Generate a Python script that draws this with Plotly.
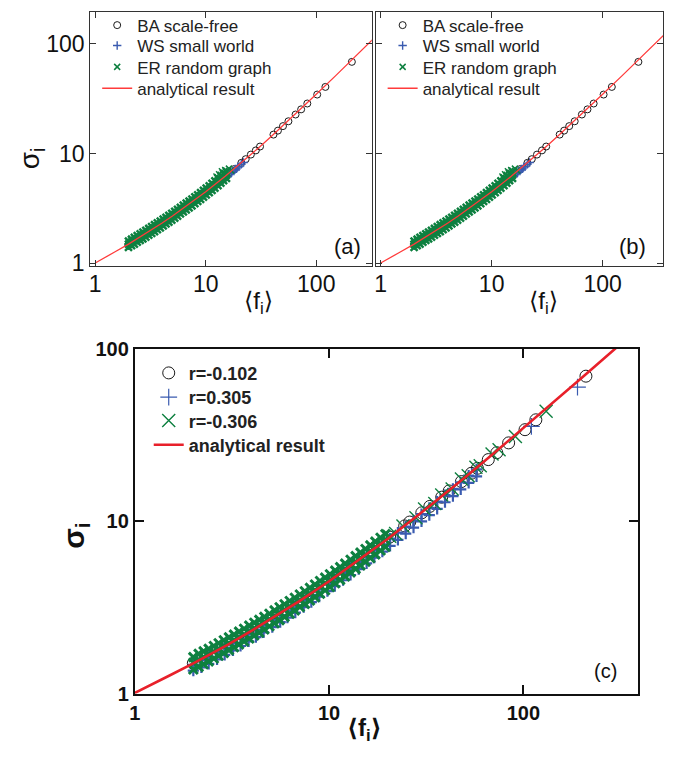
import plotly.graph_objects as go

W, H = 677, 760

LINE_F = [1, 1.25, 1.5, 2, 2.5, 3, 4, 5, 7, 10, 15, 20, 30, 40, 50, 70, 100, 150, 200, 300, 400]
LINE_S = [1.01, 1.14, 1.27, 1.50, 1.72, 1.92, 2.32, 2.70, 3.43, 4.49, 6.21, 7.90, 11.27, 14.62,
          17.97, 24.65, 34.66, 51.33, 68.0, 101.3, 134.7]

BA_F = [2.0, 2.15, 2.3, 2.5, 2.75, 3.0, 3.4, 3.8, 4.3, 4.9, 5.6, 6.4, 7.3, 8.3, 9.5, 10.8, 12.3, 14, 16, 18,
        21, 23, 25.6, 28.4, 31, 41, 45, 50, 56, 65, 73, 83, 102, 121, 210]
BA_S = [1.50, 1.565, 1.63, 1.72, 1.82, 1.92, 2.08, 2.24, 2.43, 2.66, 2.92, 3.21, 3.53, 3.89, 4.31, 4.76, 5.28, 5.86, 6.55, 7.22,
        8.24, 8.9, 9.8, 10.7, 11.6, 14.9, 16.2, 17.8, 19.7, 22.7, 25.3, 28.6, 34.5, 40.5, 68.5]

WS_F = [2.0, 2.3, 2.7, 3.1, 3.6, 4.2, 4.9, 5.7, 6.6, 7.7, 9.0, 10.5, 12.0, 12.5, 13.0, 13.5, 14.0, 14.5,
        15.0, 15.5, 16.0, 16.5, 17.0, 17.5, 18.0, 18.5, 19.0, 19.5, 20.0, 21.0, 22.0]
WS_S = [1.45, 1.58, 1.75, 1.91, 2.10, 2.32, 2.58, 2.87, 3.18, 3.57, 4.01, 4.52, 4.98, 5.25, 5.30, 5.58, 5.63, 5.91,
        5.97, 6.25, 6.29, 6.59, 6.61, 6.92, 6.93, 7.24, 7.26, 7.58, 7.58, 8.0, 8.3]

ER_F = [2.0, 2.13, 2.26, 2.4, 2.55, 2.7, 2.87, 3.05, 3.24, 3.44, 3.65, 3.88, 4.12, 4.37, 4.64, 4.93, 5.24,
        5.56, 5.9, 6.27, 6.66, 7.07, 7.5, 7.97, 8.46, 8.98, 9.54, 10.1, 10.75, 11.4, 12.1, 12.9, 13.7, 14.5, 15.4]
ER_LO = [1.40, 1.45, 1.50, 1.56, 1.62, 1.67, 1.74, 1.81, 1.88, 1.95, 2.03, 2.11, 2.20, 2.29, 2.38, 2.48, 2.59,
         2.70, 2.82, 2.94, 3.07, 3.21, 3.35, 3.51, 3.67, 3.84, 4.02, 4.20, 4.41, 4.62, 4.85, 5.10, 5.39, 5.67, 5.96]
ER_MID = [1.50, 1.56, 1.62, 1.68, 1.74, 1.81, 1.87, 1.95, 2.03, 2.10, 2.19, 2.28, 2.37, 2.47, 2.57, 2.68, 2.79,
          2.91, 3.04, 3.17, 3.31, 3.46, 3.61, 3.78, 3.95, 4.14, 4.33, 4.53, 4.76, 4.98, 5.23, 5.50, 5.78, 6.05, 6.36]
ER_HI = [1.60, 1.66, 1.73, 1.79, 1.86, 1.93, 2.00, 2.08, 2.16, 2.25, 2.34, 2.43, 2.53, 2.63, 2.74, 2.86, 2.98,
         3.11, 3.24, 3.39, 3.54, 3.69, 3.86, 4.04, 4.22, 4.42, 4.63, 4.84, 5.08, 5.36, 5.65, 5.98, 6.30, 6.60, 6.90]
ER_OUT_F = [12.5, 13.2, 14.0, 15.0, 16.2, 17.0]
ER_OUT_S = [6.2, 6.5, 6.9, 7.1, 7.3, 7.0]

C1_F = [2.0, 2.15, 2.3, 2.5, 2.75, 3.0, 3.4, 3.8, 4.3, 4.9, 5.6, 6.4, 7.3, 8.3, 9.5, 10.8, 12.3, 14, 16, 18,
        20.5, 24.5, 26, 30, 33, 38, 41.5, 48, 54, 58, 66, 73, 84, 102, 116, 210]
C1_S = [1.50, 1.565, 1.63, 1.72, 1.82, 1.92, 2.08, 2.24, 2.43, 2.66, 2.92, 3.21, 3.53, 3.89, 4.31, 4.76, 5.28, 5.86, 6.55, 7.22,
        8.1, 9.4, 9.9, 11.2, 12.2, 13.8, 15.0, 17.0, 19.0, 20.3, 22.8, 25.0, 28.5, 34.0, 38.8, 69.5]

C2_F = [2.0, 2.2, 2.4, 2.65, 2.9, 3.2, 3.5, 3.85, 4.2, 4.6, 5.1, 5.6, 6.1, 6.7, 7.4, 8.1, 8.9, 9.8, 10.7,
        11.8, 12.9, 14.2, 15.6, 17.1, 18.8, 20.6, 22.6, 24.8, 27.2, 29.9, 32.8, 36, 39.5, 43.4, 47.6, 52.3, 57.4]
C2_HI = [1.47, 1.56, 1.64, 1.74, 1.85, 1.96, 2.08, 2.22, 2.35, 2.50, 2.68, 2.86, 3.04, 3.25, 3.50, 3.74, 4.02, 4.33, 4.63,
         5.01, 5.38, 5.81, 6.28, 6.78, 7.35, 7.94, 8.60, 9.33, 10.1, 11.0, 11.97, 13.0, 14.2, 15.4, 16.8, 18.4, 20.0]
C2_LO = [1.36, 1.42, 1.49, 1.58, 1.68, 1.78, 1.89, 2.01, 2.13, 2.27, 2.43, 2.60, 2.76, 2.95, 3.18, 3.40, 3.65, 3.93, 4.21,
         4.55, 4.88, 5.28, 5.70, 6.16, 6.67, 7.21, 7.81, 8.47, 9.19, 10.0, 10.87, 11.8, 12.9, 14.0, 15.3, 16.7, 18.2]
C2_OUT_F = [110, 190]
C2_OUT_S = [35.5, 60.0]

C3_F = [2.0, 2.13, 2.26, 2.4, 2.55, 2.7, 2.87, 3.05, 3.24, 3.44, 3.65, 3.88, 4.12, 4.37, 4.64, 4.93, 5.24,
        5.56, 5.9, 6.27, 6.66, 7.07, 7.5, 7.97, 8.46, 8.98, 9.54, 10.1, 10.75, 11.4, 12.1, 12.9, 13.7, 14.5, 15.4,
        16.3, 17.3, 18.4, 19.5]
C3_LO = [1.38, 1.43, 1.48, 1.54, 1.60, 1.66, 1.72, 1.79, 1.86, 1.93, 2.01, 2.09, 2.18, 2.26, 2.36, 2.46, 2.56,
         2.67, 2.79, 2.91, 3.04, 3.18, 3.32, 3.47, 3.63, 3.80, 3.98, 4.16, 4.37, 4.57, 4.79, 5.05, 5.30, 5.55, 5.83,
         6.12, 6.43, 6.77, 7.11]
C3_MID = [1.51, 1.57, 1.63, 1.69, 1.75, 1.82, 1.89, 1.96, 2.04, 2.12, 2.20, 2.30, 2.39, 2.49, 2.59, 2.70, 2.81,
          2.93, 3.06, 3.20, 3.34, 3.49, 3.64, 3.81, 3.98, 4.17, 4.37, 4.56, 4.79, 5.02, 5.26, 5.54, 5.82, 6.09, 6.40,
          6.71, 7.06, 7.43, 7.81]
C3_HI = [1.63, 1.70, 1.76, 1.82, 1.89, 1.96, 2.04, 2.12, 2.20, 2.29, 2.38, 2.48, 2.58, 2.68, 2.79, 2.91, 3.04,
         3.17, 3.30, 3.45, 3.60, 3.76, 3.93, 4.11, 4.30, 4.50, 4.71, 4.93, 5.17, 5.42, 5.68, 5.98, 6.28, 6.58, 6.91,
         7.25, 7.62, 8.02, 8.43]
C3_OUT_F = [20.5, 22, 24, 28, 31, 35, 38, 43, 48, 52, 57, 60, 69, 75, 91, 131]
C3_OUT_S = [8.2, 8.5, 9.4, 10.5, 11.8, 12.7, 14.2, 15.4, 17.6, 18.4, 20.6, 21.0, 24.6, 26.0, 31.0, 43.5]

MAJOR_TICKS = [1, 10, 100]
MINOR_X = [2, 3, 4, 5, 6, 7, 8, 9, 20, 30, 40, 50, 60, 70, 80, 90, 200, 300]
MINOR_Y = [2, 3, 4, 5, 6, 7, 8, 9, 20, 30, 40, 50, 60, 70, 80, 90, 200]

LEG_AB = ["BA scale-free", "WS small world", "ER random graph", "analytical result"]
LEG_C = ["r=-0.102", "r=0.305", "r=-0.306", "analytical result"]

BLACK = "#1a1a1a"
BLUE = "#3a5bb0"
GREEN = "#0e8040"
RED_AB = "#ff3b3b"
RED_C = "#e8202a"
FONT = "Liberation Sans, Arial, DejaVu Sans, sans-serif"

fig = go.Figure()


def px_dom_x(a, b):
    return [a / W, b / W]


def px_dom_y(top, bottom):
    return [1 - bottom / H, 1 - top / H]


def lid(n):
    return "legend" if n == 1 else "legend%d" % n


def add_ab(xa, ya, l0):
    fig.add_trace(go.Scatter(x=BA_F, y=BA_S, mode="markers", name=LEG_AB[0], xaxis=xa, yaxis=ya, legend=lid(l0),
                             marker=dict(symbol="circle-open", size=7, color=BLACK, line=dict(width=1, color=BLACK))))
    fig.add_trace(go.Scatter(x=WS_F, y=WS_S, mode="markers", name=LEG_AB[1], xaxis=xa, yaxis=ya, legend=lid(l0 + 1),
                             marker=dict(symbol="cross-thin", size=6, color=BLUE, line=dict(width=1.4, color=BLUE))))
    fig.add_trace(go.Scatter(x=ER_F * 3, y=ER_LO + ER_MID + ER_HI, mode="markers", xaxis=xa, yaxis=ya,
                             showlegend=False, hoverinfo="skip",
                             marker=dict(symbol="x-thin", size=7, color=GREEN, line=dict(width=2.5, color=GREEN))))
    fig.add_trace(go.Scatter(x=ER_OUT_F, y=ER_OUT_S, mode="markers", name=LEG_AB[2], xaxis=xa, yaxis=ya,
                             legend=lid(l0 + 2),
                             marker=dict(symbol="x-thin", size=6, color=GREEN, line=dict(width=1.5, color=GREEN))))
    fig.add_trace(go.Scatter(x=LINE_F, y=LINE_S, mode="lines", name=LEG_AB[3], xaxis=xa, yaxis=ya, legend=lid(l0 + 3),
                             line=dict(color=RED_AB, width=1.3)))


add_ab("x", "y", 1)
add_ab("x2", "y2", 5)

fig.add_trace(go.Scatter(x=C1_F, y=C1_S, mode="markers", name=LEG_C[0], xaxis="x3", yaxis="y3", legend=lid(9),
                         marker=dict(symbol="circle-open", size=12, color=BLACK, line=dict(width=1, color=BLACK))))
fig.add_trace(go.Scatter(x=C2_F * 2, y=C2_HI + C2_LO, mode="markers", xaxis="x3", yaxis="y3",
                         showlegend=False, hoverinfo="skip",
                         marker=dict(symbol="cross-thin", size=8, color=BLUE, line=dict(width=2.2, color=BLUE))))
fig.add_trace(go.Scatter(x=C2_OUT_F, y=C2_OUT_S, mode="markers", name=LEG_C[1], xaxis="x3", yaxis="y3",
                         legend=lid(10),
                         marker=dict(symbol="cross-thin", size=12, color=BLUE, line=dict(width=1.2, color=BLUE))))
fig.add_trace(go.Scatter(x=C3_F * 3, y=C3_LO + C3_MID + C3_HI, mode="markers", xaxis="x3", yaxis="y3",
                         showlegend=False, hoverinfo="skip",
                         marker=dict(symbol="x-thin", size=9, color=GREEN, line=dict(width=3.0, color=GREEN))))
fig.add_trace(go.Scatter(x=C3_OUT_F, y=C3_OUT_S, mode="markers", name=LEG_C[2], xaxis="x3", yaxis="y3",
                         legend=lid(11),
                         marker=dict(symbol="x-thin", size=13, color=GREEN, line=dict(width=1.4, color=GREEN))))
fig.add_trace(go.Scatter(x=LINE_F, y=LINE_S, mode="lines", name=LEG_C[3], xaxis="x3", yaxis="y3", legend=lid(12),
                         line=dict(color=RED_C, width=2.6)))


def ax(dom, rng, labels=True, size=22, bold=False, lw=1.0, tl=6, color="#333333", standoff=0):
    return dict(type="log", domain=dom, range=rng, tickmode="array", tickvals=MAJOR_TICKS,
                ticktext=[str(v) for v in MAJOR_TICKS], showticklabels=labels,
                tickfont=dict(family=FONT, size=size, color="#111111", weight="bold" if bold else "normal"),
                ticks="inside", ticklen=tl, tickwidth=lw, tickcolor=color, ticklabelstandoff=standoff,
                showline=True, linecolor=color, linewidth=lw, mirror="ticks",
                showgrid=False, zeroline=False, layer="above traces")


def minor_ax(dom, rng, vals, over, anchor, lw=1.0, tl=3, color="#333333"):
    return dict(type="log", domain=dom, range=rng, overlaying=over, anchor=anchor, tickmode="array",
                tickvals=vals, showticklabels=False, ticks="inside", ticklen=tl, tickwidth=lw, tickcolor=color,
                showline=False, mirror="ticks", showgrid=False, zeroline=False)


DA_X, DA_Y = px_dom_x(85, 369), px_dom_y(1, 263)
DB_X, DB_Y = px_dom_x(373, 663), px_dom_y(1, 263)
DC_X, DC_Y = px_dom_x(130, 638), px_dom_y(348, 703)
RA_X, RB_X, RAB_Y = [-0.045, 2.502], [-0.045, 2.545], [-0.027, 2.29]
RC_X, RC_Y = [0, 2.592], [0, 2]

layout = dict(
    width=W, height=H, margin=dict(l=0, r=0, t=0, b=0), autosize=False,
    paper_bgcolor="white", plot_bgcolor="white",
    xaxis=ax(DA_X, RA_X, size=23, standoff=-3),
    yaxis=ax(DA_Y, RAB_Y, size=23),
    xaxis2=dict(ax(DB_X, RB_X, size=23, standoff=-3), anchor="y2"),
    yaxis2=dict(ax(DB_Y, RAB_Y, labels=False), anchor="x2"),
    xaxis3=dict(ax(DC_X, RC_X, size=20, bold=True, lw=2, tl=9, color="#111111"), anchor="y3"),
    yaxis3=dict(ax(DC_Y, RC_Y, size=20, bold=True, lw=2, tl=9, color="#111111"), anchor="x3"),
    xaxis4=minor_ax(DA_X, RA_X, MINOR_X, "x", "y"),
    yaxis4=minor_ax(DA_Y, RAB_Y, MINOR_Y, "y", "x"),
    xaxis5=minor_ax(DB_X, RB_X, MINOR_X, "x2", "y2"),
    yaxis5=minor_ax(DB_Y, RAB_Y, MINOR_Y, "y2", "x2"),
    xaxis6=minor_ax(DC_X, RC_X, MINOR_X, "x3", "y3", lw=2, tl=5, color="#111111"),
    yaxis6=minor_ax(DC_Y, RC_Y, MINOR_Y, "y3", "x3", lw=2, tl=5, color="#111111"),
    showlegend=True,
)

# one legend per entry so that each row sits exactly where the reference has it
ROWS_AB = [15, 36, 58, 80]
ROWS_C = [373, 398, 422, 447]
for i, yc in enumerate(ROWS_AB):
    for base, x0 in ((1, 92), (5, 380)):
        layout[lid(base + i)] = dict(x=x0 / W, y=1 - yc / H, xanchor="left", yanchor="middle",
                                     bgcolor="rgba(0,0,0,0)", borderwidth=0,
                                     font=dict(family=FONT, size=17, color="#222222"))
for i, yc in enumerate(ROWS_C):
    layout[lid(9 + i)] = dict(x=144 / W, y=1 - yc / H, xanchor="left", yanchor="middle",
                              bgcolor="rgba(0,0,0,0)", borderwidth=0,
                              font=dict(family=FONT, size=18, color="#222222", weight="bold"))

fig.update_layout(**layout)


def ann(text, x, y, size, angle=0, bold=False):
    fig.add_annotation(text=text, x=x / W, y=1 - y / H, xref="paper", yref="paper", showarrow=False,
                       textangle=angle, xanchor="center", yanchor="middle",
                       font=dict(family=FONT, size=size, color="#111111", weight="bold" if bold else "normal"))


ann("σ<sub>i</sub>", 26, 152, 28, angle=-90)
ann("⟨f<sub>i</sub>⟩", 255, 300, 24)
ann("⟨f<sub>i</sub>⟩", 542, 300, 24)
ann("(a)", 345, 243, 22)
ann("(b)", 632, 243, 22)
ann("σ<sub>i</sub>", 70, 540, 30, angle=-90, bold=True)
ann("⟨f<sub>i</sub>⟩", 362, 740, 24, bold=True)
ann("(c)", 605, 680, 20)

fig.write_html("out.html")
